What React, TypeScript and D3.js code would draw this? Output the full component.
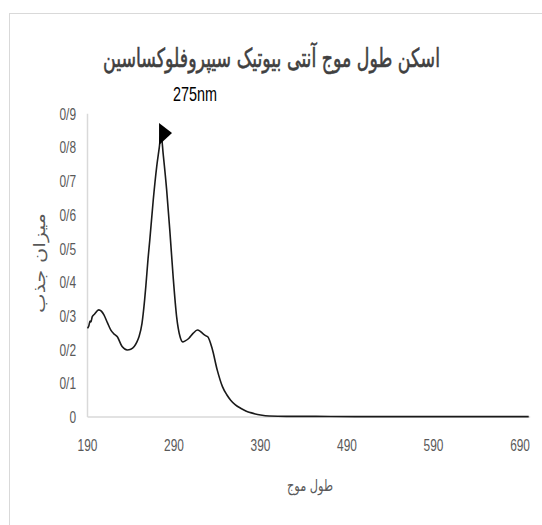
import React, { useLayoutEffect, useRef, useState } from "react";
import * as d3 from "d3";

// Absorbance scan of ciprofloxacin (wavelength in nm, absorbance)
const wavelengths = [
  190, 191.5, 193, 194, 195.5, 198, 203, 206, 209, 213, 217, 220, 224.5, 230, 236, 240,
  244, 247, 249.5, 253, 256, 257.5, 260, 262, 266, 270, 273, 275, 277.5, 281.5, 285.4,
  289, 293, 297, 300, 303, 307, 312, 317, 320, 323, 326, 329, 334, 340, 346, 351, 355.5,
  361, 367, 373, 378.6, 384, 390, 400, 420, 450, 500, 550, 600, 650, 700,
];
const absorbance = [
  0.263, 0.27, 0.285, 0.282, 0.298, 0.305, 0.318, 0.314, 0.303, 0.28, 0.258, 0.248, 0.238,
  0.209, 0.199, 0.201, 0.209, 0.222, 0.238, 0.278, 0.347, 0.39, 0.47, 0.525, 0.644, 0.743,
  0.8, 0.84, 0.78, 0.674, 0.545, 0.416, 0.298, 0.238, 0.223, 0.226, 0.233, 0.248, 0.258,
  0.255, 0.248, 0.242, 0.238, 0.204, 0.139, 0.09, 0.066, 0.05, 0.036, 0.026, 0.018, 0.013,
  0.009, 0.006, 0.003, 0.002, 0.002, 0.001, 0.001, 0.001, 0.001, 0.001,
];
const xTicks = [190, 290, 390, 490, 590, 690];
const yTicks = [0, 0.1, 0.2, 0.3, 0.4, 0.5, 0.6, 0.7, 0.8, 0.9];
const peakWavelength = 275;
const peakLabel = "275nm";
const title = "اسکن طول موج آنتی بیوتیک سیپروفلوکساسین";
const xTitle = "طول موج";
const yTitle = "میزان جذب";

const W = 542;
const H = 525;

// Text squeezed horizontally to a given width, measured after layout
function FitText({
  x,
  y,
  width,
  rotate = 0,
  children,
  ...rest
}: {
  x: number;
  y: number;
  width: number;
  rotate?: number;
  children: string;
  [k: string]: any;
}) {
  const ref = useRef<SVGTextElement>(null);
  const [sx, setSx] = useState(1);
  useLayoutEffect(() => {
    if (ref.current) {
      const w = ref.current.getComputedTextLength();
      if (w > 0) setSx(width / w);
    }
  }, [width, children]);
  return (
    <g transform={`translate(${x},${y}) rotate(${rotate}) scale(${sx},1)`}>
      <text ref={ref} textAnchor="middle" {...rest}>
        {children}
      </text>
    </g>
  );
}

export default function App() {
  const x = d3.scaleLinear().domain([190, 700]).range([87.5, 528.7]);
  const y = d3.scaleLinear().domain([0, 0.9]).range([417, 113.7]);

  const pts: [number, number][] = wavelengths.map((w, i) => [w, absorbance[i]]);
  const line = d3
    .line<[number, number]>()
    .x((d) => x(d[0]))
    .y((d) => y(d[1]))
    .curve(d3.curveMonotoneX);

  const peakIdx = wavelengths.indexOf(peakWavelength);
  const px = x(peakWavelength);
  const py = y(absorbance[peakIdx]);

  const fmt = (v: number) => (v === 0 ? "0" : v.toFixed(1).replace(".", "/"));
  const narrow = 0.7;
  const tickFont = "'Liberation Sans', Arial, sans-serif";
  const persianFont = "'DejaVu Sans', sans-serif";

  return (
    <svg
      width={W}
      height={H}
      style={{ position: "absolute", left: 0, top: 0, background: "#fff" }}
    >
      {/* chart area border */}
      <rect x={9.5} y={13.5} width={600} height={600} fill="none" stroke="#d9d9d9" strokeWidth={1} />

      {/* title */}
      <FitText
        x={271.5}
        y={67}
        width={337}
        fontFamily={persianFont}
        fontSize={26}
        fill="#404040"
        stroke="#404040"
        strokeWidth={0.6}
      >
        {title}
      </FitText>

      {/* axes */}
      <line x1={87.5} x2={87.5} y1={y(0.9)} y2={y(0)} stroke="#d9d9d9" strokeWidth={1.5} />
      <line x1={87.5} x2={x(700) + 1.5} y1={y(0)} y2={y(0)} stroke="#d9d9d9" strokeWidth={1.5} />

      {/* y tick labels */}
      {yTicks.map((t) => (
        <g key={t} transform={`translate(76,${y(t) + 6}) scale(${narrow},1)`}>
          <text textAnchor="end" fontFamily={tickFont} fontSize={17} fill="#595959">
            {fmt(t)}
          </text>
        </g>
      ))}

      {/* x tick labels */}
      {xTicks.map((t) => (
        <g key={t} transform={`translate(${x(t)},${451}) scale(${narrow},1)`}>
          <text textAnchor="middle" fontFamily={tickFont} fontSize={17} fill="#595959">
            {t}
          </text>
        </g>
      ))}

      {/* axis titles */}
      <FitText x={310} y={491} width={46} fontFamily={persianFont} fontSize={16} fill="#595959">
        {xTitle}
      </FitText>
      <FitText
        x={45}
        y={263}
        width={100}
        rotate={-90}
        fontFamily={persianFont}
        fontSize={16}
        fill="#595959"
      >
        {yTitle}
      </FitText>

      {/* spectrum */}
      <path d={line(pts) ?? ""} fill="none" stroke="#1a1a1a" strokeWidth={1.6} strokeLinejoin="round" />

      {/* peak marker and label */}
      <path
        d={`M${px - 2},${py - 11} L${px + 11},${py - 1} L${px - 2},${py + 11} Z`}
        fill="#000"
      />
      <g transform={`translate(195,101) scale(0.72,1)`}>
        <text textAnchor="middle" fontFamily={tickFont} fontSize={20} fill="#000">
          {peakLabel}
        </text>
      </g>
    </svg>
  );
}
